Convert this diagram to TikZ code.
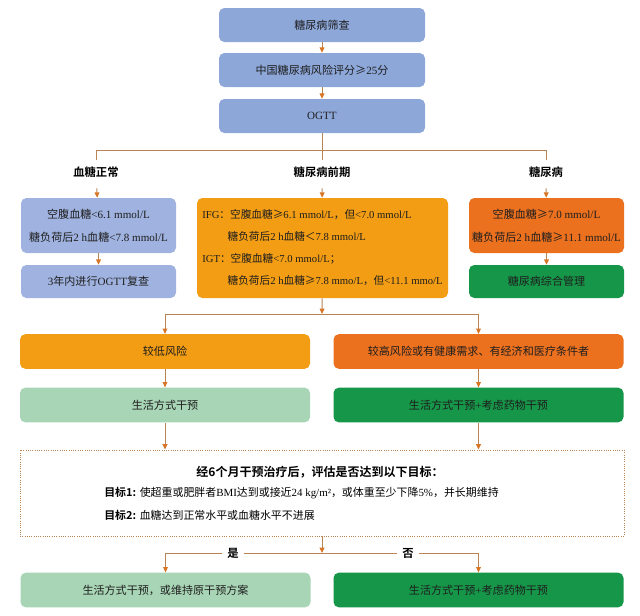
\documentclass[tikz,border=0pt]{standalone}
\usepackage{fontspec}
\setmainfont{Liberation Serif}
\setsansfont{Noto Sans CJK SC}[BoldFont={Noto Sans CJK SC Bold}]
\newfontfamily\zhfont{Noto Sans CJK SC}[BoldFont={Noto Sans CJK SC Bold}]
\usetikzlibrary{arrows.meta}
% Chinese characters are set in the CJK font, the rest in Liberation Serif
\XeTeXinterchartokenstate=1
\newXeTeXintercharclass\zhclass
\newcount\zhcode
\zhcode="4E00
\loop\ifnum\zhcode<"A000
  \XeTeXcharclass\zhcode=\zhclass
  \advance\zhcode by 1
\repeat
\XeTeXcharclass"2265=\zhclass
\XeTeXcharclass"3001=\zhclass
\XeTeXcharclass"FF0C=\zhclass
\XeTeXcharclass"FF1A=\zhclass
\XeTeXcharclass"FF1B=\zhclass
\XeTeXcharclass"FF1C=\zhclass
\XeTeXinterchartoks 0 \zhclass={\begingroup\zhfont}
\XeTeXinterchartoks 4095 \zhclass={\begingroup\zhfont}
\XeTeXinterchartoks \zhclass 0={\endgroup}
\XeTeXinterchartoks \zhclass 4095={\endgroup}
\definecolor{topc}{RGB}{141,167,217}
\definecolor{norc}{RGB}{160,179,224}
\definecolor{prec}{RGB}{243,157,20}
\definecolor{dmc}{RGB}{236,113,30}
\definecolor{grc}{RGB}{22,150,72}
\definecolor{lgrc}{RGB}{168,213,181}
\definecolor{linkc}{RGB}{184,132,84}
\definecolor{tipc}{RGB}{214,118,38}
\definecolor{txtc}{RGB}{30,30,30}
\begin{document}
\begin{tikzpicture}[x=0.75pt,y=-0.75pt,>={Triangle[length=4pt,width=3.6pt,color=tipc]},
box/.style={rounded corners=4pt,align=center,inner sep=2pt,text=txtc,font=\fontsize{8.3}{17}\selectfont},
wide/.style={box,minimum width=154.5pt,minimum height=25.5pt,fill=topc},
side/.style={box,minimum width=116.25pt},
half/.style={box,minimum width=217.5pt,minimum height=26pt},
lab/.style={inner sep=5pt,font=\sffamily\bfseries\fontsize{8.5}{10}\selectfont},
link/.style={draw=linkc,line width=0.7pt}]
\useasboundingbox (0,0) rectangle (640,615);
\node[wide] (scr) at (322,25) {糖尿病筛查};
\node[wide] (risk) at (322,70) {中国糖尿病风险评分≥25分};
\node[wide] (ogtt) at (322,116) {OGTT};
\coordinate (s1) at (322,150);
\node[lab] (lnor) at (96,172) {血糖正常};
\node[lab] (lpre) at (322,172) {糖尿病前期};
\node[lab] (ldm) at (546,172) {糖尿病};
\node[side,fill=norc,minimum height=41.25pt] (nor1) at (98.5,225.5)
{空腹血糖<6.1 mmol/L\\糖负荷后2 h血糖<7.8 mmol/L};
\node[side,fill=norc,minimum height=24.75pt] (nor2) at (98.5,281.5) {3年内进行OGTT复查};
\node[box,fill=prec,minimum width=188.25pt,minimum height=75pt,align=left,font=\fontsize{8}{16.5}\selectfont] (pre) at (322.5,248)
{IFG：空腹血糖≥6.1 mmol/L，但<7.0 mmol/L\\
 \hspace*{19pt}糖负荷后2 h血糖＜7.8 mmol/L\\
 IGT：空腹血糖<7.0 mmol/L；\\
 \hspace*{19pt}糖负荷后2 h血糖≥7.8 mmo/L，但<11.1 mmo/L};
\node[side,fill=dmc,minimum height=41.25pt] (dm1) at (546.5,225.5)
{空腹血糖≥7.0 mmol/L\\糖负荷后2 h血糖≥11.1 mmol/L};
\node[side,fill=grc,minimum height=24.75pt] (dm2) at (546.5,281.5) {糖尿病综合管理};
\coordinate (s2) at (322,314);
\node[half,fill=prec] (low) at (165,351.5) {较低风险};
\node[half,fill=dmc] (high) at (478.5,351.5) {较高风险或有健康需求、有经济和医疗条件者};
\node[half,fill=lgrc] (life1) at (165,405) {生活方式干预};
\node[half,fill=grc] (life2) at (478.5,405) {生活方式干预+考虑药物干预};
\node[draw=linkc,densely dotted,line width=0.7pt,minimum width=453pt,minimum height=64.5pt] (goal) at (322,493) {};
\node[font=\sffamily\bfseries\fontsize{9}{11}\selectfont] (ghead) at (320,472) {经6个月干预治疗后，评估是否达到以下目标：};
\node[anchor=west,font=\fontsize{8.2}{10}\selectfont,inner sep=0pt] (g1) at (104,493)
{{\sffamily\bfseries 目标1:} 使超重或肥胖者BMI达到或接近24 kg/m²，或体重至少下降5\%，并长期维持};
\node[anchor=west,font=\fontsize{8.2}{10}\selectfont,inner sep=0pt] (g2) at (104,515)
{{\sffamily\bfseries 目标2:} 血糖达到正常水平或血糖水平不进展};
\coordinate (s3) at (322,553);
\node[half,fill=lgrc] (keep) at (165.5,590) {生活方式干预，或维持原干预方案};
\node[half,fill=grc] (drug) at (478.5,590) {生活方式干预+考虑药物干预};
% connectors
\draw[link,->] (scr) -- (risk);
\draw[link,->] (risk) -- (ogtt);
\draw[link] (ogtt) -- (lpre);
\draw[link] (s1) -| (lnor);
\draw[link] (s1) -| (ldm);
\draw[link,->,shorten <=3pt] (lnor) -- (nor1);
\draw[link,->,shorten <=3pt] (lpre) -- (pre);
\draw[link,->,shorten <=3pt] (ldm) -- (dm1);
\draw[link,->] (nor1) -- (nor2);
\draw[link,->] (dm1) -- (dm2);
\draw[link,->] (pre) -- (s2);
\draw[link,->] (s2) -| (low);
\draw[link,->] (s2) -| (high);
\draw[link,->] (low) -- (life1);
\draw[link,->] (high) -- (life2);
\draw[link,->] (life1) -- (life1 |- goal.north);
\draw[link,->] (life2) -- (life2 |- goal.north);
\draw[link,->] (goal) -- (s3);
\draw[link,->] (s3) -| (keep);
\draw[link,->] (s3) -| (drug);
\node[lab,fill=white,inner sep=4pt] (yes) at (233,553) {是};
\node[lab,fill=white,inner sep=4pt] (no) at (408,553) {否};
\end{tikzpicture}
\end{document}
